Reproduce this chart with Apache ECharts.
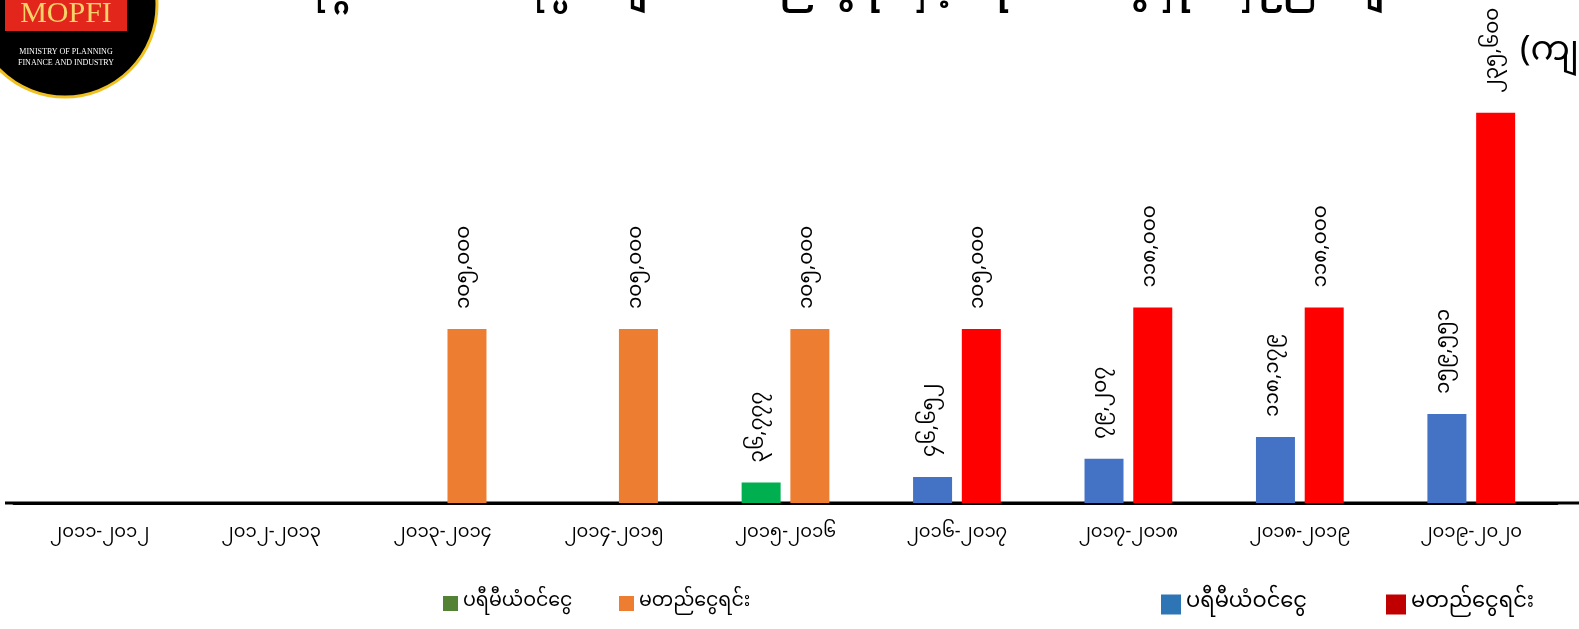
<!DOCTYPE html>
<html>
<head>
<meta charset="utf-8">
<script src="https://cdn.jsdelivr.net/npm/echarts@6/dist/echarts.min.js"></script>
<style>
  html, body {margin: 0; padding: 0; background: #fff;}
  #main {width: 1579px; height: 629px;}
</style>
</head>
<body>
<div id="main"></div>
<script>
const categories = ['၂၀၁၁-၂၀၁၂', '၂၀၁၂-၂၀၁၃', '၂၀၁၃-၂၀၁၄', '၂၀၁၄-၂၀၁၅', '၂၀၁၅-၂၀၁၆',
  '၂၀၁၆-၂၀၁၇', '၂၀၁၇-၂၀၁၈', '၂၀၁၈-၂၀၁၉', '၂၀၁၉-၂၀၂၀'];
// premium income, first period (green) and later periods (blue) - secondary axis
const premiumOld = [null, null, null, null, 36777, null, null, null, null];
const premiumNew = [null, null, null, null, null, 46652, 79207, 118179, 159551];
// paid-up capital, first period (orange) and later periods (red) - primary axis
const capitalOld = [null, null, 105000, 105000, 105000, null, null, null, null];
const capitalNew = [null, null, null, null, null, 105000, 118000, 118000, 235600];
const seriesNames = ['ပရီမီယံဝင်ငွေ', 'မတည်ငွေရင်း'];
const title = 'ပုဂ္ဂလိကအာမခံကုမ္ပဏီများ၏ မတည်ငွေရင်းနှင့် ပရီမီယံဝင်ငွေ နှိုင်းယှဉ်ပြသချက်';
const unit = '(ကျပ်သန်း)';

const FONT = "'Noto Sans Myanmar', 'Myanmar Text', 'Noto Sans', sans-serif";
const mmDigits = '၀၁၂၃၄၅၆၇၈၉';
function toMyanmar(v) {
  return v.toLocaleString('en-US').replace(/[0-9]/g, d => mmDigits[+d]);
}

const label = {
  show: true,
  position: 'top',
  rotate: 90,
  align: 'left',
  verticalAlign: 'middle',
  distance: 20,
  fontSize: 20,
  color: '#000',
  fontFamily: FONT,
  formatter: p => toMyanmar(p.value)
};

function bar(name, data, color, stack, axis) {
  return {
    name: name,
    type: 'bar',
    stack: stack,
    yAxisIndex: axis,
    barWidth: 39,
    barGap: '25%',
    data: data,
    itemStyle: {color: color},
    label: label
  };
}

function legend(name, left, top, color, size, fontSize) {
  return {
    left: left,
    top: top,
    padding: 0,
    itemWidth: size,
    itemHeight: size,
    itemGap: 5,
    icon: 'rect',
    selectedMode: false,
    textStyle: {fontSize: fontSize, color: '#000', fontFamily: FONT},
    data: [{name: name, itemStyle: {color: color}}]
  };
}

const chart = echarts.init(document.getElementById('main'));
chart.setOption({
  animation: false,
  backgroundColor: '#fff',
  grid: {left: 14, right: 22, top: 89, bottom: 126, containLabel: false},
  xAxis: {
    type: 'category',
    data: categories,
    axisTick: {show: false},
    axisLine: {lineStyle: {color: '#000', width: 3}},
    axisLabel: {fontSize: 18, color: '#000', margin: 23, fontFamily: FONT, interval: 0}
  },
  yAxis: [
    {type: 'value', min: 0, max: 250000, show: false},
    {type: 'value', min: 0, max: 742000, show: false}
  ],
  legend: [
    legend(seriesNames[0], 443, 594, '#548235', 15, 19),
    legend(seriesNames[1], 619, 594, '#ed7d31', 15, 19),
    legend(seriesNames[0] + ' ', 1161, 594, '#2e75b6', 20, 21),
    legend(seriesNames[1] + ' ', 1386, 594, '#c00000', 20, 21)
  ],
  series: [
    bar(seriesNames[0], premiumOld, '#00b050', 'premium', 1),
    bar(seriesNames[0] + ' ', premiumNew, '#4472c4', 'premium', 1),
    bar(seriesNames[1], capitalOld, '#ed7d31', 'capital', 0),
    bar(seriesNames[1] + ' ', capitalNew, '#ff0000', 'capital', 0)
  ],
  graphic: [
    {type: 'line', shape: {x1: 5, y1: 503, x2: 1579, y2: 503}, style: {stroke: '#000', lineWidth: 3}},
    {type: 'text', x: 864, y: -21,
      style: {text: title, font: 'bold 32px ' + FONT, fill: '#000', align: 'center'}},
    {type: 'text', x: 1520, y: 39,
      style: {text: unit, font: '35px ' + FONT, fill: '#000'}},
    // ministry logo in the top-left corner
    {type: 'circle', shape: {cx: 65, cy: 5, r: 92}, style: {fill: '#000', stroke: '#f0c020', lineWidth: 3}},
    {type: 'rect', shape: {x: 5, y: -6, width: 122, height: 37}, style: {fill: '#e3261b'}},
    {type: 'text', x: 66, y: 14,
      style: {text: 'MOPFI', font: '30px "Liberation Serif", serif', fill: '#f7d36a', align: 'center', verticalAlign: 'middle'}},
    {type: 'text', x: 66, y: 52,
      style: {text: 'MINISTRY OF PLANNING', font: '8px "Liberation Serif", serif', fill: '#fff', align: 'center', verticalAlign: 'middle'}},
    {type: 'text', x: 66, y: 63,
      style: {text: 'FINANCE AND INDUSTRY', font: '8px "Liberation Serif", serif', fill: '#fff', align: 'center', verticalAlign: 'middle'}}
  ]
});
</script>
</body>
</html>
